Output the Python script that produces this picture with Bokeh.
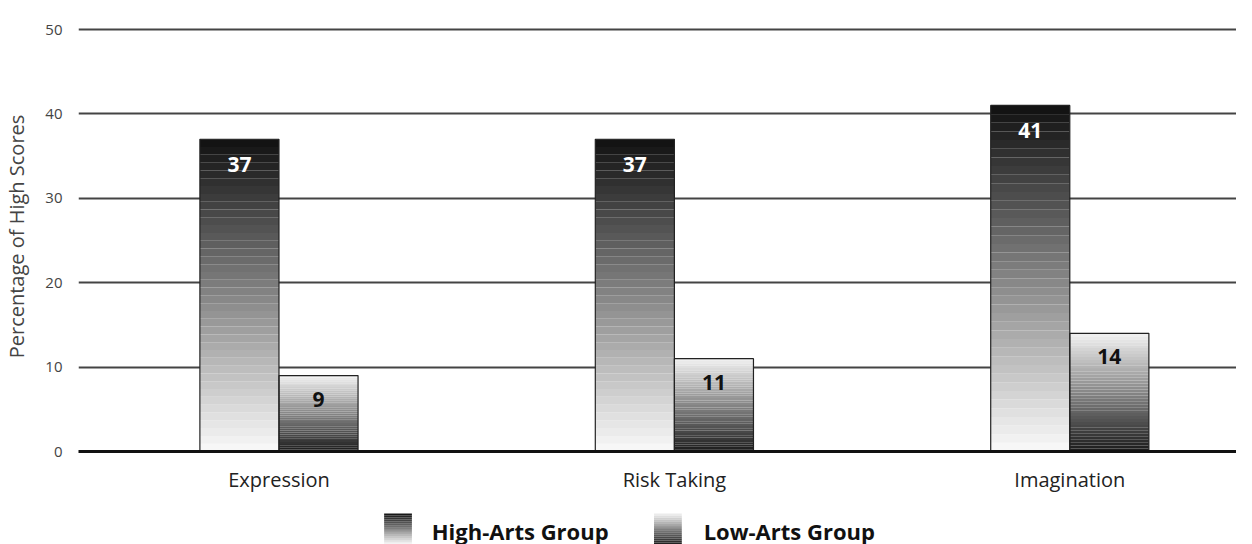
from bokeh.plotting import figure
from bokeh.layouts import column
from bokeh.models import ColumnDataSource, FixedTicker, Range1d
from bokeh.core.properties import value
from bokeh.embed import file_html
from bokeh.resources import INLINE

categories = ["Expression", "Risk Taking", "Imagination"]
high_arts = [37, 37, 41]
low_arts = [9, 11, 14]
y_ticks = [0, 10, 20, 30, 40, 50]
series_names = ["High-Arts Group", "Low-Arts Group"]

FONT = "Open Sans"
N = 40          # gradient slices per bar
BAR_W = 0.2

def gray(g):
    g = int(round(max(0, min(255, g))))
    return "#%02x%02x%02x" % (g, g, g)

def shade(t, dark_top):
    # t: 0 at bottom of bar, 1 at top
    return gray(250 - t * 234) if dark_top else gray(26 + t * 216)

def slices(values, offset, dark_top):
    d = dict(left=[], right=[], bottom=[], top=[], color=[])
    for i, v in enumerate(values):
        for k in range(N):
            t = (k + 0.5) / N
            d["left"].append(i + offset)
            d["right"].append(i + offset + BAR_W)
            d["bottom"].append(v * k / N)
            d["top"].append(v * (k + 1) / N)
            d["color"].append(shade(t, dark_top))
    return ColumnDataSource(d)

p = figure(width=1236, height=500, output_backend="svg", toolbar_location=None,
           x_range=Range1d(-0.507, 2.4216), y_range=Range1d(0, 50.95),
           min_border_left=69, min_border_right=0, min_border_top=21,
           min_border_bottom=49)
p.outline_line_color = None
p.xgrid.grid_line_color = None
p.ygrid.grid_line_color = "#444444"
p.ygrid.grid_line_width = 2
p.ygrid.ticker = FixedTicker(ticks=y_ticks)

p.quad(left="left", right="right", bottom="bottom", top="top",
       fill_color="color", line_color=None, source=slices(high_arts, -BAR_W, True))
p.quad(left="left", right="right", bottom="bottom", top="top",
       fill_color="color", line_color=None, source=slices(low_arts, 0.0, False))

xs = list(range(len(categories)))
p.quad(left=[x - BAR_W for x in xs], right=xs, bottom=0, top=high_arts,
       fill_color=None, line_color="#222222", line_width=1.2)
p.quad(left=xs, right=[x + BAR_W for x in xs], bottom=0, top=low_arts,
       fill_color=None, line_color="#222222", line_width=1.2)

p.text(x=[x - BAR_W / 2 for x in xs], y=[v - 3.0 for v in high_arts],
       text=[str(v) for v in high_arts], text_align="center",
       text_baseline="middle", text_color="white", text_font=value(FONT),
       text_font_style="bold", text_font_size="21px")
p.text(x=[x + BAR_W / 2 for x in xs], y=[v - 2.8 for v in low_arts],
       text=[str(v) for v in low_arts], text_align="center",
       text_baseline="middle", text_color="#111111", text_font=value(FONT),
       text_font_style="bold", text_font_size="21px")

p.xaxis.ticker = FixedTicker(ticks=xs)
p.xaxis.major_label_overrides = {x: c for x, c in zip(xs, categories)}
p.xaxis.axis_line_color = "#111111"
p.xaxis.axis_line_width = 3
p.xaxis.major_tick_line_color = None
p.xaxis.minor_tick_line_color = None
p.xaxis.major_label_text_font = FONT
p.xaxis.major_label_text_font_size = "20px"
p.xaxis.major_label_text_color = "#222222"
p.xaxis.major_label_standoff = 8

p.yaxis.ticker = FixedTicker(ticks=y_ticks)
p.yaxis.axis_line_color = None
p.yaxis.major_tick_line_color = None
p.yaxis.minor_tick_line_color = None
p.yaxis.major_label_text_font = FONT
p.yaxis.major_label_text_font_size = "15px"
p.yaxis.major_label_text_color = "#444444"
p.yaxis.major_label_standoff = 10
p.yaxis.axis_label = "Percentage of High Scores"
p.yaxis.axis_label_text_font = FONT
p.yaxis.axis_label_text_font_style = "normal"
p.yaxis.axis_label_text_font_size = "20px"
p.yaxis.axis_label_text_color = "#444444"
p.yaxis.axis_label_standoff = 12

# legend strip (gradient swatches as in the original key); its frame is
# aligned with the main plot's frame by the column layout
lg = figure(width=1236, height=44, output_backend="svg", toolbar_location=None,
            x_range=Range1d(69, 1236), y_range=Range1d(0, 44), min_border=0)
lg.axis.visible = False
lg.grid.visible = False
lg.outline_line_color = None
swatch_left = [377, 649]
text_left = [425, 699]
SW, SH, M = 28, 31, 16
for j, dark_top in enumerate([True, False]):
    d = dict(left=[], right=[], bottom=[], top=[], color=[])
    for k in range(M):
        t = (k + 0.5) / M
        d["left"].append(swatch_left[j])
        d["right"].append(swatch_left[j] + SW)
        d["bottom"].append(SH * k / M)
        d["top"].append(SH * (k + 1) / M)
        d["color"].append(shade(t, dark_top))
    lg.quad(left="left", right="right", bottom="bottom", top="top",
            fill_color="color", line_color=None, source=ColumnDataSource(d))
lg.text(x=text_left, y=[14, 14], text=series_names, text_align="left",
        text_baseline="middle", text_color="#111111", text_font=value(FONT),
        text_font_style="bold", text_font_size="22px")

layout = column(p, lg, spacing=0)
open("out.html", "w").write(file_html(layout, INLINE))
